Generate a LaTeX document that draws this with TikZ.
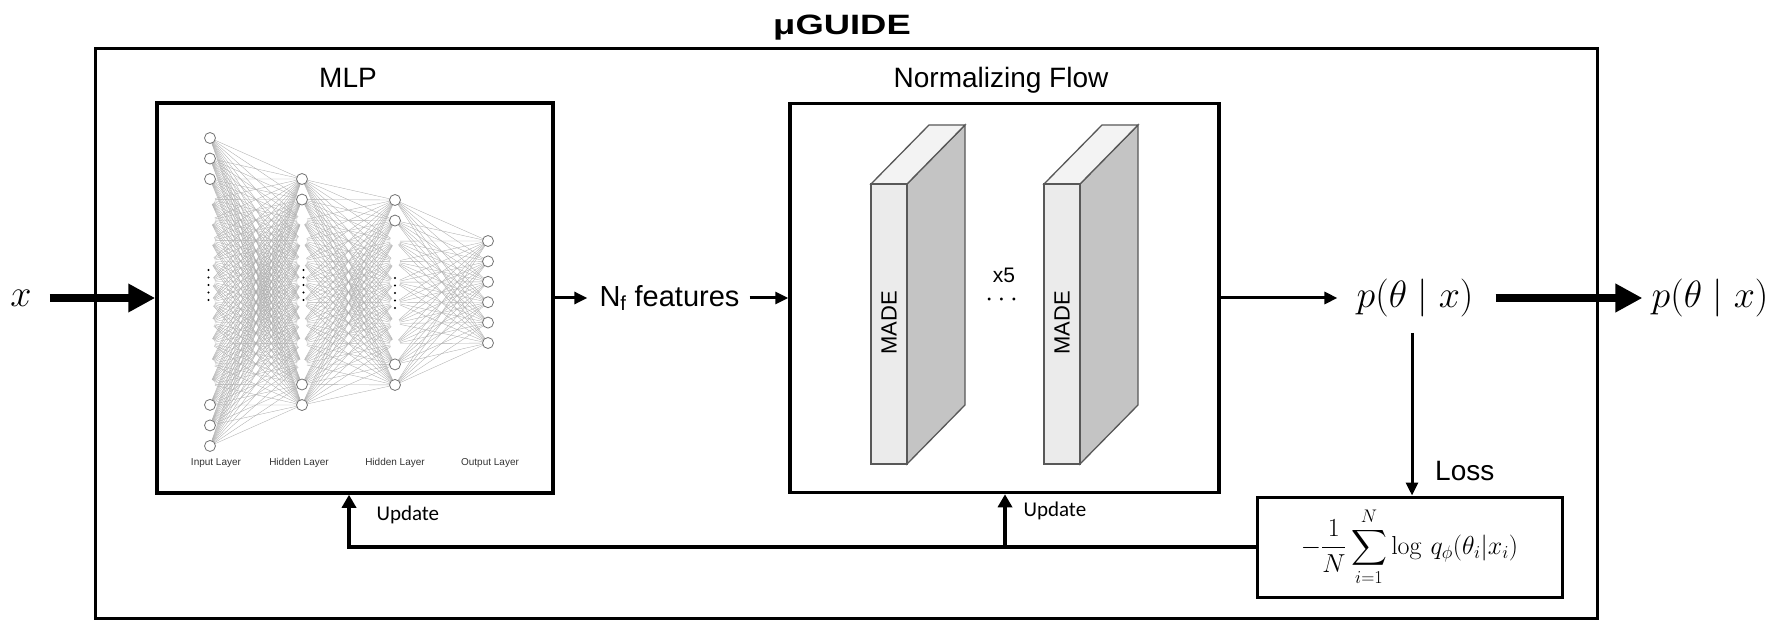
\RequirePackage{fix-cm}
\documentclass[tikz,border=0pt]{standalone}
\usepackage{amsmath}
\usepackage[no-math]{fontspec}
\setmainfont{Liberation Sans}
\newfontfamily\updatefont{Carlito}
\usepackage{tikz}
\usepackage{xcolor}
\usetikzlibrary{calc,arrows.meta}
\definecolor{madefront}{HTML}{EBEBEB}
\definecolor{madetop}{HTML}{F3F3F3}
\definecolor{madeside}{HTML}{C4C4C4}
\definecolor{madeedge}{HTML}{585858}
\colorlet{netedge}{black!32}
\colorlet{netnode}{black!55}
\newcommand{\madeblock}[2]{% front face at x = #1
  \filldraw[fill=madeside, draw=madeedge, line width=1.3pt] (#1+36,184) -- (#1+94,125) -- (#1+94,405) -- (#1+36,464) -- cycle;
  \filldraw[fill=madetop, draw=madeedge, line width=1.3pt] (#1,184) -- (#1+58,125) -- (#1+94,125) -- (#1+36,184) -- cycle;
  \filldraw[fill=madefront, draw=madeedge, line width=1.3pt] (#1,184) rectangle (#1+36,464);
  \node[madetext] (#2) at (#1+18,323) {MADE};
}
\tikzstyle{frame} = [draw, line width=3pt, inner sep=0pt]
\tikzstyle{block} = [draw, line width=3.5pt, inner sep=0pt]
\tikzstyle{bigarrow} = [line width=8pt, -{Triangle[length=27pt,width=27pt]}]
\tikzstyle{thinarrow} = [line width=3pt, -{Triangle[length=13pt,width=12pt]}]
\tikzstyle{fbarrow} = [line width=4pt, -{Triangle[length=13pt,width=14pt]}]
\tikzstyle{neuron} = [circle, draw=netnode, fill=white, line width=0.8pt, inner sep=0pt, minimum size=11pt]
\tikzstyle{netline} = [draw=netedge, line width=0.35pt, shorten >=5pt, shorten <=5pt]
\tikzstyle{titletext} = [font=\bfseries\fontsize{28}{32}\selectfont, anchor=base, xscale=1.3]
\tikzstyle{headtext} = [font=\fontsize{28}{32}\selectfont, anchor=base]
\tikzstyle{madetext} = [font=\fontsize{22}{26}\selectfont, rotate=90]
\tikzstyle{layertext} = [font=\fontsize{10}{12}\selectfont, text=black!80]
\tikzstyle{mathtext} = [font=\fontsize{38}{44}\selectfont, inner sep=0pt]
\tikzstyle{updatetext} = [font=\updatefont\fontsize{21}{24}\selectfont, anchor=base west]

\begin{document}
\begin{tikzpicture}[x=1pt, y=-1pt]
\useasboundingbox (0,0) rectangle (1786,636);

\node[frame, minimum width=1502pt, minimum height=569pt] (guide) at (846,333.5) {};
\node[titletext] (title) at (842,35) {μGUIDE};

\node[block, minimum width=396pt, minimum height=390pt] (mlp) at (355,298) {};
\node[headtext] (mlplabel) at (348,88) {MLP};
\node[block, minimum width=429pt, minimum height=389pt] (nf) at (1004.5,298) {};
\node[headtext] (nflabel) at (1001,88) {Normalizing Flow};

% network inside the MLP box
\foreach \i in {0,...,15} \coordinate (in-\i) at (210,{138+20.53*\i});
\foreach \i in {0,...,11} \coordinate (ha-\i) at (302,{179+20.55*\i});
\foreach \i in {0,...,9} \coordinate (hb-\i) at (395,{200+20.55*\i});
\foreach \i in {0,...,5} \coordinate (out-\i) at (488,{241+20.4*\i});
\foreach \i in {0,...,15} \foreach \j in {0,...,11} \draw[netline] (in-\i) -- (ha-\j);
\foreach \i in {0,...,11} \foreach \j in {0,...,9} \draw[netline] (ha-\i) -- (hb-\j);
\foreach \i in {0,...,9} \foreach \j in {0,...,5} \draw[netline] (hb-\i) -- (out-\j);
\foreach \i in {0,1,2,13,14,15} \node[neuron] (nin-\i) at (in-\i) {};
\foreach \i in {0,1,10,11} \node[neuron] (nha-\i) at (ha-\i) {};
\foreach \i in {0,1,8,9} \node[neuron] (nhb-\i) at (hb-\i) {};
\foreach \i in {0,...,5} \node[neuron] (nout-\i) at (out-\i) {};
\foreach \k in {0,...,4} {
  \fill (208.5,{270+7.5*\k}) circle (1.1pt);
  \fill (303.5,{270+7.5*\k}) circle (1.1pt);
  \fill (395,{278+7.5*\k}) circle (1.1pt);
}
\node[layertext] (lin) at (216,463) {Input Layer};
\node[layertext] (lha) at (299,463) {Hidden Layer};
\node[layertext] (lhb) at (395,463) {Hidden Layer};
\node[layertext] (lout) at (490,463) {Output Layer};

% flow blocks
\madeblock{871}{madea}
\madeblock{1044}{madeb}
\node[font=\fontsize{21}{24}\selectfont, inner sep=0pt] (times) at (1004,275) {x5};
\node[font=\fontsize{28}{32}\selectfont, inner sep=0pt] (dots) at (1004,300) {$\cdots$};

\node[mathtext] (xin) at (21,298) {$x$};
\node[font=\fontsize{29}{34}\selectfont, inner sep=0pt] (feat) at (669.5,298) {N\textsubscript{f} features};
\node[mathtext] (pin) at (1415,298) {$p(\theta\mid x)$};
\node[mathtext] (pout) at (1710,298) {$p(\theta\mid x)$};

\node[frame, minimum width=305pt, minimum height=100pt, font=\fontsize{26}{30}\selectfont] (loss) at (1409.5,547)
  {$\displaystyle -\frac{1}{N}\sum_{i=1}^{N}\log\, q_\phi(\theta_i|x_i)$};
\node[headtext, anchor=base west, inner sep=0pt] (losslabel) at (1435,480) {Loss};

\draw[bigarrow] ([xshift=18pt]xin.east) -- (xin.east -| mlp.west);
\draw[thinarrow] (mlp.east) -- ([xshift=-12pt]feat.west);
\draw[thinarrow] ([xshift=10pt]feat.east) -- (nf.west);
\draw[thinarrow] (nf.east) -- ([xshift=-19pt]pin.west);
\draw[bigarrow] ([xshift=22pt]pin.east) -- ([xshift=-9pt]pout.west);

\coordinate (losstop) at (1412,333);
\draw[thinarrow] (losstop) -- (losstop |- loss.north);

\coordinate (fbmlp) at (349,547);
\coordinate (fbnf) at (1005,547);
\draw[fbarrow] (loss.west) -- (fbmlp) -- (fbmlp |- mlp.south);
\draw[fbarrow] (fbnf) -- (fbnf |- nf.south);
\node[updatetext] (updmlp) at (373,520) {Update};
\node[updatetext] (updnf) at (1020,516) {Update};
\end{tikzpicture}
\end{document}
